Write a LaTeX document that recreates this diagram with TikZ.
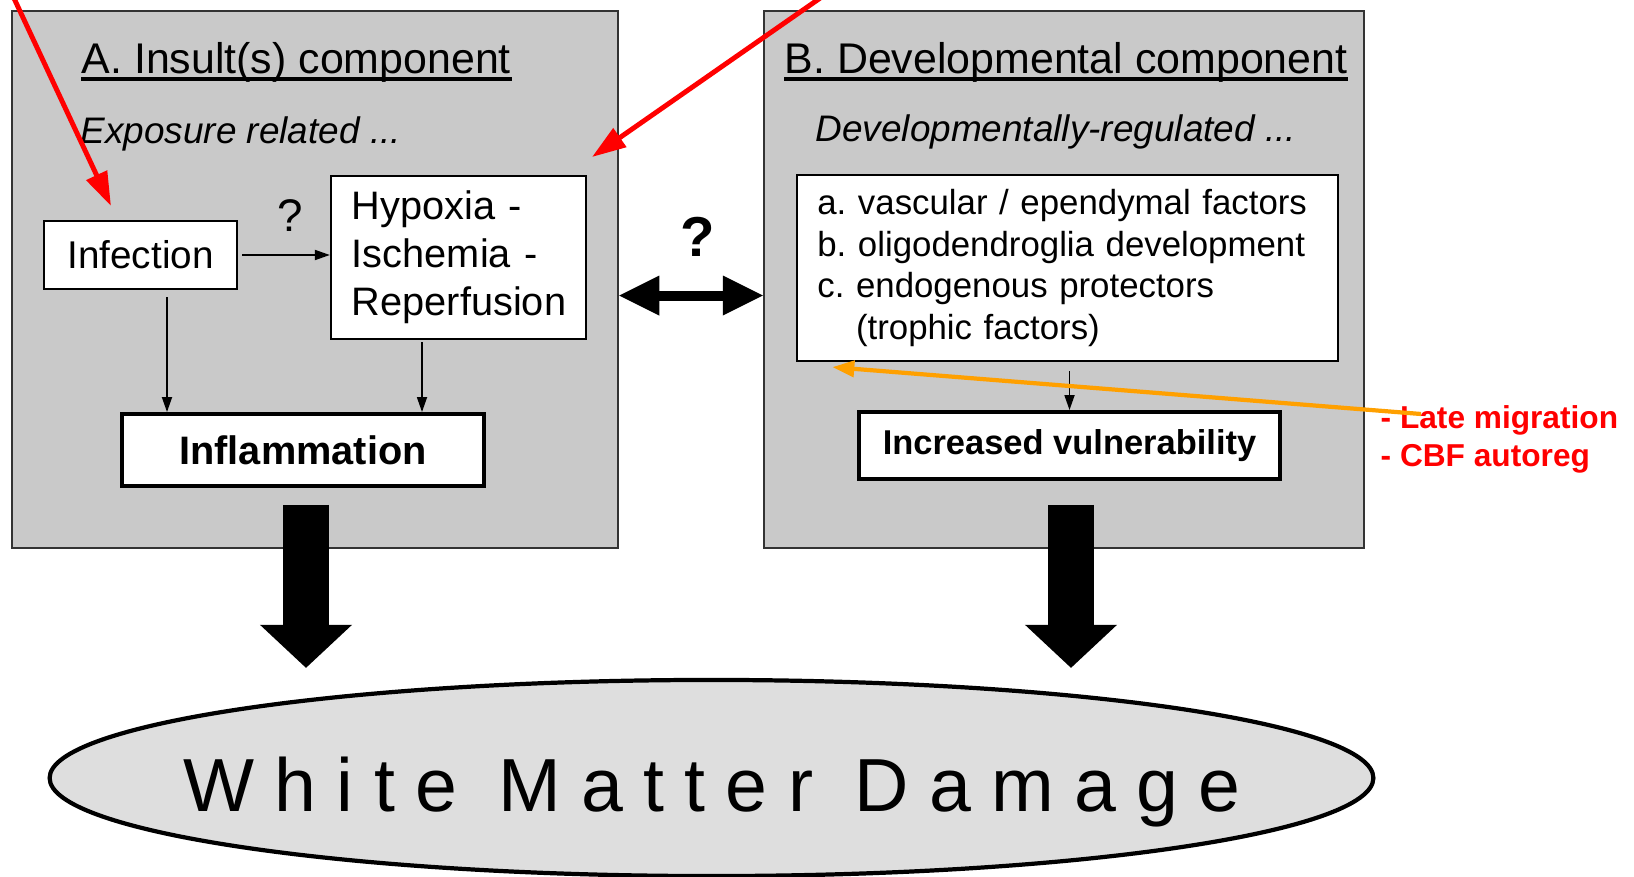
\documentclass[tikz,border=0pt]{standalone}
\usepackage{fontspec}
\setmainfont{Liberation Sans}
\usetikzlibrary{arrows.meta,shapes.geometric,calc}
\definecolor{panelgray}{gray}{0.79}
\definecolor{ovalgray}{gray}{0.87}
\definecolor{notered}{RGB}{255,0,0}
\definecolor{noteorange}{RGB}{255,160,0}
\frenchspacing

\begin{document}
\begin{tikzpicture}[x=0.01cm,y=-0.01cm,
  panel/.style={draw=black!80,line width=0.6pt,fill=panelgray,minimum height=5.37cm,inner sep=0pt},
  box/.style={draw,fill=white,line width=0.6pt,inner sep=0pt},
  boldbox/.style={box,line width=1.1pt},
  thinarrow/.style={line width=0.5pt,-{Triangle[length=0.15cm,width=0.1cm]}},
  bigarrow/.style={line width=0.46cm,-{Triangle[length=0.43cm,width=0.92cm,line width=0pt]}},
  redarrow/.style={notered,line width=1.4pt,-{Triangle[length=0.34cm,width=0.22cm]}},
  title/.style={anchor=base west,inner sep=0pt,font=\fontsize{12.2}{14}\selectfont},
  subtitle/.style={anchor=west,inner sep=0pt,font=\fontsize{10.5}{12}\selectfont\itshape}]
\useasboundingbox (0,0) rectangle (1634,876);

% the two components
\node[panel,minimum width=6.06cm] (panelA) at (315,279.5) {};
\node[panel,minimum width=6.00cm] (panelB) at (1064,279.5) {};

\node[title] (titleA) at (81,74) {A. Insult(s) component};
\node[title] (titleB) at (784,74) {B. Developmental component};
\draw[line width=0.9pt] ($(titleA.base west)+(0,5)$) -- ($(titleA.base east)+(0,5)$);
\draw[line width=0.9pt] ($(titleB.base west)+(0,5)$) -- ($(titleB.base east)+(0,5)$);
\node[subtitle] (expo) at (80,134) {Exposure related ...};
\node[subtitle] (devreg) at (815,132) {Developmentally-regulated ...};

% A
\node[box,minimum width=1.93cm,minimum height=0.68cm,font=\fontsize{11}{13}\selectfont] (infection) at (140.5,255) {Infection};
\node[box,text width=2.13cm,inner xsep=0.21cm,minimum height=1.63cm,align=left,
  font=\fontsize{11.3}{13.6}\selectfont] (hypoxia) at (458.5,257.5) {Hypoxia -\\Ischemia -\\Reperfusion};
\node[boldbox,minimum width=3.62cm,minimum height=0.72cm,font=\fontsize{11.3}{13}\selectfont\bfseries] (inflam) at (303,450) {Inflammation};
\node[font=\fontsize{13}{15}\selectfont] (qA) at (290,216) {?};

\draw[thinarrow,shorten <=0.04cm] (infection.east) -- (infection.east -| hypoxia.west);
\coordinate (infdown) at ($(infection.south)+(26.5,7)$);
\coordinate (hypdown) at ($(hypoxia.south)+(-36.5,2)$);
\draw[thinarrow] (infdown) -- (infdown |- inflam.north);
\draw[thinarrow] (hypdown) -- (hypdown |- inflam.north);

% B
\node[box,text width=5.0cm,inner xsep=0.2cm,minimum height=1.86cm,align=left,
  font=\fontsize{9.9}{11.9}\selectfont] (factors) at (1067.5,268)
  {a. vascular / ependymal factors\\b. oligodendroglia development\\c. endogenous protectors\\\hphantom{c.\ }(trophic factors)};
\node[boldbox,minimum width=4.21cm,minimum height=0.67cm,font=\fontsize{9.8}{12}\selectfont\bfseries] (incvul) at (1069.5,445.5) {Increased vulnerability};
\coordinate (facdown) at ($(factors.south)+(2,9)$);
\draw[thinarrow] (facdown) -- (facdown |- incvul.north);

% between A and B
\node[font=\fontsize{16}{18}\selectfont\bfseries] (qAB) at (698,237) {?};
\draw[line width=0.1cm,{Triangle[length=0.4cm,width=0.4cm,line width=0pt]}-{Triangle[length=0.4cm,width=0.4cm,line width=0pt]}]
  ([yshift=-0.16cm]panelA.east) -- ([yshift=-0.16cm]panelB.west);

% white matter damage
\node[draw,ellipse,fill=ovalgray,line width=1.2pt,minimum width=13.23cm,minimum height=1.96cm,inner sep=0pt] (wmd) at (711.5,778) {};
\node[anchor=base,inner sep=0pt,font=\fontsize{21.4}{24}\selectfont\addfontfeature{LetterSpace=27}] (wmdtext) at (712,811) {White Matter Damage};

\draw[bigarrow] ($(inflam.south)+(3,17)$) -- ($(inflam.south |- wmd.north)+(3,-10)$);
\draw[bigarrow] ($(incvul.south)+(1.5,24)$) -- ($(incvul.south |- wmd.north)+(1.5,-10)$);

% notes
\node[anchor=west,align=left,inner sep=0pt,text=notered,font=\fontsize{9}{11}\selectfont\bfseries] (note) at (1380,439.5) {- Late migration\\- CBF autoreg};
\coordinate (notetail) at (1421,414);
\coordinate (notetip) at ($(factors.south west)+(36,5)$);
\draw[noteorange,line width=1.2pt,-{Triangle[length=0.22cm,width=0.16cm]}] (notetail) -- (notetip);

\coordinate (redtopA) at (12,-6);
\coordinate (redtipA) at (111,206);
\coordinate (redtopB) at (826,-6);
\coordinate (redtipB) at (592,157);
\draw[redarrow] (redtopA) -- (redtipA);
\draw[redarrow] (redtopB) -- (redtipB);
\end{tikzpicture}
\end{document}
